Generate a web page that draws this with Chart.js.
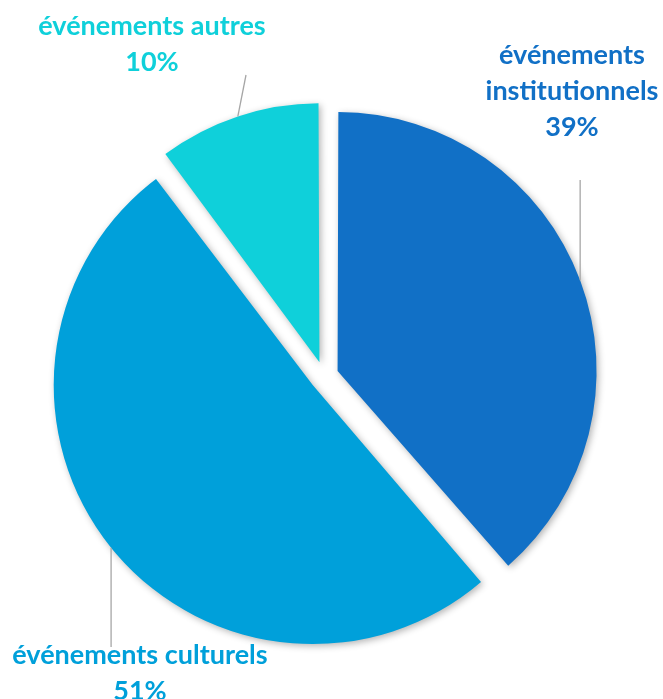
<!DOCTYPE html>
<html>
<head>
<meta charset="utf-8">
<script src="https://cdn.jsdelivr.net/npm/chart.js@4/dist/chart.umd.min.js"></script>
<style>
  html, body { margin: 0; padding: 0; background: #fff; }
  #wrap { width: 663px; height: 699px; }
</style>
</head>
<body>
<div id="wrap"><canvas id="pieEvents"></canvas></div>
<script>
const categories = ['événements institutionnels', 'événements culturels', 'événements autres'];
const labelLines = [['événements', 'institutionnels'], ['événements culturels'], ['événements autres']];
const shares = [38.6, 51.2, 10.2];
const colors = ['#1170C6', '#00A0DA', '#0FD0DA'];

// placement des étiquettes (centre du texte, bout du trait)
const labelPos = [
    { x: 572, y: 55, lineEnd: { dy: 180 } },
    { x: 140, y: 655, lineEnd: { dy: 647 } },
    { x: 152, y: 26, lineEnd: { x: 246, y: 75 } }
];

const FONT = 'bold 27px Lato, "Open Sans", sans-serif';
const LINE_H = 36;
const RADIUS = 259;
const OFFSET = 58; // chart.js v4 décale de offset / 4

// chart.js agrandit aussi le rayon des parts décalées : on compense
function radiusOffset(arc) {
    const fix = 1 - Math.sin(Math.min(Math.PI, arc.circumference || 0));
    return OFFSET / 4 * fix;
}

const labelsPlugin = {
    id: 'pieLabels',
    afterDatasetsUpdate(chart) {
        chart.getDatasetMeta(0).data.forEach(arc => {
            arc.outerRadius = RADIUS - radiusOffset(arc);
        });
    },
    beforeDatasetsDraw(chart) {
        const ctx = chart.ctx;
        ctx.save();
        ctx.shadowColor = 'rgba(0,0,0,0.3)';
        ctx.shadowBlur = 7;
        ctx.shadowOffsetX = 2;
        ctx.shadowOffsetY = 2;
    },
    afterDatasetsDraw(chart) {
        chart.ctx.restore();
    },
    afterDraw(chart) {
        const ctx = chart.ctx;
        const meta = chart.getDatasetMeta(0);

        meta.data.forEach((arc, i) => {
            const mid = (arc.startAngle + arc.endAngle) / 2;
            const cx = arc.x + Math.cos(mid) * OFFSET / 4;
            const cy = arc.y + Math.sin(mid) * OFFSET / 4;
            const sx = cx + Math.cos(mid) * RADIUS;
            const sy = cy + Math.sin(mid) * RADIUS;
            const pos = labelPos[i];
            const ex = pos.lineEnd.x !== undefined ? pos.lineEnd.x : sx;
            const ey = pos.lineEnd.y !== undefined ? pos.lineEnd.y : pos.lineEnd.dy;

            ctx.save();
            ctx.strokeStyle = '#A6A6A6';
            ctx.lineWidth = 1.3;
            ctx.beginPath();
            ctx.moveTo(sx, sy);
            ctx.lineTo(ex, ey);
            ctx.stroke();

            ctx.font = FONT;
            ctx.fillStyle = colors[i];
            ctx.textAlign = 'center';
            ctx.textBaseline = 'middle';
            const lines = labelLines[i].concat([Math.round(shares[i]) + '%']);
            lines.forEach((t, k) => ctx.fillText(t, pos.x, pos.y + k * LINE_H));
            ctx.restore();
        });
    }
};

new Chart(document.getElementById('pieEvents'), {
    type: 'pie',
    data: {
        labels: categories,
        datasets: [{
            data: shares,
            backgroundColor: colors,
            borderWidth: 0,
            offset: OFFSET
        }]
    },
    options: {
        responsive: true,
        maintainAspectRatio: false,
        animation: false,
        radius: RADIUS,
        layout: {
            padding: { left: 0, right: 15, top: 53, bottom: 0 }
        },
        plugins: {
            legend: { display: false },
            tooltip: { enabled: false }
        }
    },
    plugins: [labelsPlugin]
});
</script>
</body>
</html>
